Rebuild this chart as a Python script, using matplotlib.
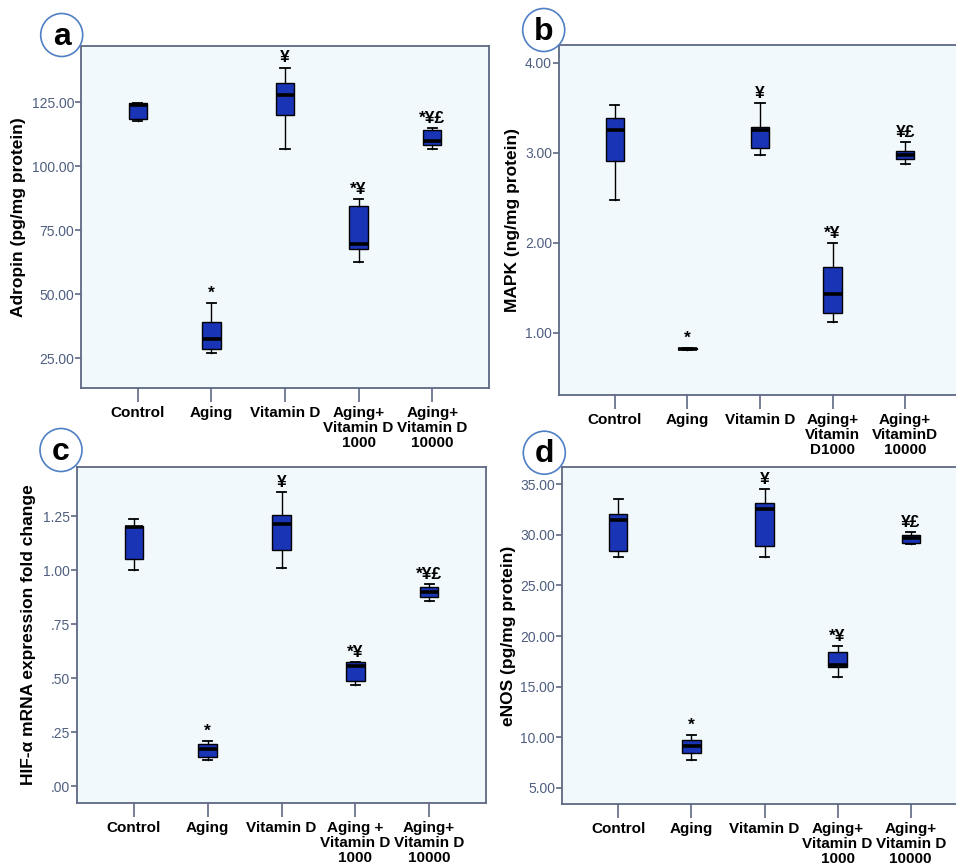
import matplotlib
matplotlib.use("Agg")
import matplotlib.pyplot as plt
from matplotlib.patches import Ellipse
from matplotlib.ticker import FixedLocator, FuncFormatter

plt.rcParams['font.family'] = ['Liberation Sans', 'DejaVu Sans']

# ---------------- data ----------------
labels_a = ["Control", "Aging", "Vitamin D", "Aging+\nVitamin D\n1000", "Aging+\nVitamin D\n10000"]
labels_b = ["Control", "Aging", "Vitamin D", "Aging+\nVitamin\nD1000", "Aging+\nVitaminD\n10000"]
labels_c = ["Control", "Aging", "Vitamin D", "Aging +\nVitamin D\n1000", "Aging+\nVitamin D\n10000"]
labels_d = ["Control", "Aging", "Vitamin D", "Aging+\nVitamin D\n1000", "Aging+\nVitamin D\n10000"]

adropin_lo = [117.5, 27.1, 106.5, 62.5, 106.6]
adropin_q1 = [118.2, 28.5, 120.0, 67.7, 108.1]
adropin_med = [124.0, 32.4, 127.9, 69.5, 109.6]
adropin_q3 = [124.5, 39.2, 132.3, 84.5, 114.2]
adropin_hi = [124.8, 46.6, 138.5, 87.0, 114.8]
adropin_sig = ["", "*", "¥", "*¥", "*¥£"]

mapk_lo = [2.47, 0.81, 2.97, 1.12, 2.87]
mapk_q1 = [2.91, 0.815, 3.05, 1.215, 2.93]
mapk_med = [3.25, 0.822, 3.25, 1.43, 2.98]
mapk_q3 = [3.39, 0.83, 3.29, 1.727, 3.02]
mapk_hi = [3.53, 0.835, 3.55, 2.00, 3.12]
mapk_sig = ["", "*", "¥", "*¥", "¥£"]

hif_lo = [1.00, 0.12, 1.012, 0.469, 0.858]
hif_q1 = [1.052, 0.136, 1.093, 0.488, 0.875]
hif_med = [1.20, 0.173, 1.215, 0.556, 0.901]
hif_q3 = [1.204, 0.196, 1.256, 0.573, 0.921]
hif_hi = [1.235, 0.21, 1.363, 0.577, 0.935]
hif_sig = ["", "*", "¥", "*¥", "*¥£"]

enos_lo = [27.86, 7.76, 27.86, 15.99, 29.05]
enos_q1 = [28.36, 8.42, 28.88, 16.91, 29.24]
enos_med = [31.51, 9.08, 32.53, 17.14, 29.67]
enos_q3 = [32.11, 9.70, 33.13, 18.45, 29.97]
enos_hi = [33.52, 10.26, 34.51, 19.01, 30.30]
enos_sig = ["", "*", "¥", "*¥", "¥£"]

# ---------------- style ----------------
BOX = '#1934b4'
BG = '#f2f9fc'
SPINE = '#5d6884'
TICKCOL = '#4f5f80'

W, H = 956, 867
fig = plt.figure(figsize=(W / 100, H / 100), dpi=100)
fig.patch.set_facecolor('white')


def px_axes(left, top, right, bottom):
    return [left / W, 1 - bottom / H, (right - left) / W, (bottom - top) / H]


def fmt_two(v, pos):
    return "%.2f" % v


def fmt_hif(v, pos):
    s = "%.2f" % v
    if s.startswith("0"):
        s = s[1:]
    return s


def panel(rect, labels, lo, q1, med, q3, hi, sig, ylim, yticks, fmt, ylabel, ylab_x):
    ax = fig.add_axes(rect)
    ax.set_facecolor(BG)
    stats = []
    for i in range(len(labels)):
        stats.append(dict(whislo=lo[i], q1=q1[i], med=med[i], q3=q3[i], whishi=hi[i], fliers=[]))
    ax.bxp(stats, positions=range(len(labels)), widths=0.25, capwidths=0.125,
           patch_artist=True, showfliers=False,
           boxprops=dict(facecolor=BOX, edgecolor='black', linewidth=1.0),
           medianprops=dict(color='black', linewidth=2.6),
           whiskerprops=dict(color='black', linewidth=1.0),
           capprops=dict(color='black', linewidth=1.3))
    for i, s in enumerate(sig):
        if s:
            ax.annotate(s, (i, hi[i]), xytext=(0, 1.5), textcoords='offset points',
                        ha='center', va='bottom', fontsize=12.5, fontweight='bold',
                        family=['Liberation Sans', 'DejaVu Sans'])
    ax.set_xlim(-0.77, 4.77)
    ax.set_ylim(*ylim)
    ax.yaxis.set_major_locator(FixedLocator(yticks))
    ax.yaxis.set_major_formatter(FuncFormatter(fmt))
    ax.set_xticks(range(len(labels)))
    ax.set_xticklabels(labels, fontsize=11, fontweight='bold', linespacing=1.1)
    ax.tick_params(axis='x', length=10, width=1.2, color=SPINE, pad=3)
    ax.tick_params(axis='y', length=4, width=1.2, color=SPINE, labelsize=10,
                   labelcolor=TICKCOL, pad=1)
    for sp in ax.spines.values():
        sp.set_color(SPINE)
        sp.set_linewidth(1.3)
    ax.set_ylabel(ylabel, fontsize=12.5, fontweight='bold')
    ax.yaxis.label.set_va('center')
    ax.yaxis.set_label_coords(ylab_x / W, rect[1] + rect[3] / 2, transform=fig.transFigure)
    return ax


panel(px_axes(81, 46, 489, 388), labels_a, adropin_lo, adropin_q1, adropin_med, adropin_q3,
      adropin_hi, adropin_sig, (13.3, 146.9), [25, 50, 75, 100, 125], fmt_two,
      "Adropin (pg/mg protein)", 19)
panel(px_axes(559, 45, 961, 395), labels_b, mapk_lo, mapk_q1, mapk_med, mapk_q3,
      mapk_hi, mapk_sig, (0.308, 4.197), [1, 2, 3, 4], fmt_two,
      "MAPK (ng/mg protein)", 513)
panel(px_axes(77, 467, 486, 803), labels_c, hif_lo, hif_q1, hif_med, hif_q3,
      hif_hi, hif_sig, (-0.077, 1.477), [0, 0.25, 0.5, 0.75, 1.0, 1.25], fmt_hif,
      "HIF-α mRNA expression fold change", 29)
panel(px_axes(562, 467, 967, 804), labels_d, enos_lo, enos_q1, enos_med, enos_q3,
      enos_hi, enos_sig, (3.39, 36.71), [5, 10, 15, 20, 25, 30, 35], fmt_two,
      "eNOS (pg/mg protein)", 508)

# panel letters in circles
for letter, cx, cy in [("a", 61.7, 35), ("b", 543.7, 30), ("c", 61, 450), ("d", 544.3, 452.7)]:
    e = Ellipse((cx / W, 1 - cy / H), 42 / W, 43 / H, transform=fig.transFigure,
                facecolor='white', edgecolor='#4f7fc4', linewidth=1.2, zorder=5)
    fig.add_artist(e)
    fig.text(cx / W, 1 - cy / H - 0.002, letter, ha='center', va='center', fontsize=23,
             fontweight='bold', zorder=6)

fig.savefig("out.png", dpi=100, facecolor='white')
